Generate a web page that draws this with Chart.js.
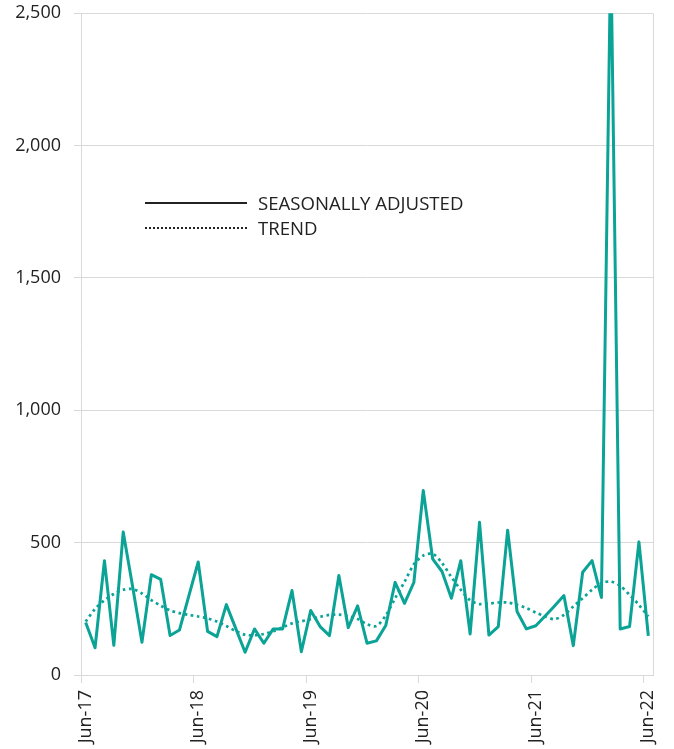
<!DOCTYPE html>
<html>
<head>
<meta charset="utf-8">
<script src="https://cdn.jsdelivr.net/npm/chart.js@4"></script>
<style>
  body { margin: 0; background: #fff; font-family: "Open Sans", sans-serif; }
  #wrap { position: relative; width: 674px; height: 749px; }
  .legend { position: absolute; left: 145px; top: 0; font-size: 18.6px; color: #222; }
  .legend .row { position: absolute; left: 0; height: 24px; white-space: nowrap; }
  .legend .mark { position: absolute; left: 0; top: 11px; width: 102px; }
  .legend .txt { position: absolute; left: 113px; top: 0; line-height: 24px; }
</style>
</head>
<body>
<div id="wrap">
  <canvas id="trendChart" width="674" height="749"></canvas>
  <div class="legend">
    <div class="row" style="top:191px"><div class="mark" style="border-top:2px solid #222"></div><span class="txt">SEASONALLY ADJUSTED</span></div>
    <div class="row" style="top:216px"><div class="mark" style="border-top:2px dotted #222"></div><span class="txt">TREND</span></div>
  </div>
</div>
<script>
const months = [
  "Jun-17", "Jul-17", "Aug-17", "Sep-17", "Oct-17", "Nov-17", "Dec-17", "Jan-18", "Feb-18", "Mar-18", "Apr-18", "May-18",
  "Jun-18", "Jul-18", "Aug-18", "Sep-18", "Oct-18", "Nov-18", "Dec-18", "Jan-19", "Feb-19", "Mar-19", "Apr-19", "May-19",
  "Jun-19", "Jul-19", "Aug-19", "Sep-19", "Oct-19", "Nov-19", "Dec-19", "Jan-20", "Feb-20", "Mar-20", "Apr-20", "May-20",
  "Jun-20", "Jul-20", "Aug-20", "Sep-20", "Oct-20", "Nov-20", "Dec-20", "Jan-21", "Feb-21", "Mar-21", "Apr-21", "May-21",
  "Jun-21", "Jul-21", "Aug-21", "Sep-21", "Oct-21", "Nov-21", "Dec-21", "Jan-22", "Feb-22", "Mar-22", "Apr-22", "May-22",
  "Jun-22"
];

const seasonallyAdjusted = [
  198, 103, 432, 112, 540, 335, 124, 379, 361, 149, 170, 299,
  427, 165, 145, 266, 176, 86, 174, 120, 174, 174, 319, 88,
  244, 183, 149, 376, 179, 261, 120, 129, 187, 350, 271, 350,
  697, 439, 391, 290, 432, 155, 577, 151, 183, 547, 240, 174,
  186, 223, 261, 300, 111, 388, 432, 293, 2750, 174, 183, 503,
  148
];

const trend = [
  202, 250, 282, 306, 322, 325, 308, 283, 262, 244, 234, 227,
  221, 214, 202, 185, 166, 152, 150, 155, 165, 180, 195, 203,
  211, 220, 227, 228, 222, 212, 192, 185, 225, 290, 352, 418,
  451, 458, 423, 370, 322, 282, 268, 270, 274, 274, 265, 253,
  236, 221, 211, 227, 259, 290, 322, 347, 353, 337, 303, 265,
  221
];

const yTicks = [0, 500, 1000, 1500, 2000, 2500];

const teal = "#0aa396";
const gridGrey = "#d9d9d9";

new Chart(document.getElementById("trendChart"), {
  type: "line",
  data: {
    labels: months,
    datasets: [
      {
        label: "SEASONALLY ADJUSTED",
        data: seasonallyAdjusted,
        borderColor: teal,
        borderWidth: 3,
        borderJoinStyle: "round",
        pointRadius: 0,
        tension: 0,
      },
      {
        label: "TREND",
        data: trend,
        borderColor: teal,
        borderWidth: 2.7,
        borderDash: [2.7, 3.5],
        pointRadius: 0,
        tension: 0.3,
      },
    ],
  },
  options: {
    responsive: false,
    animation: false,
    layout: { padding: { top: 0, right: 21, left: 0, bottom: 0 } },
    plugins: { legend: { display: false }, tooltip: { enabled: false } },
    scales: {
      x: {
        offset: true,
        grid: {
          offset: true,
          drawOnChartArea: true,
          tickLength: 8,
          // only the extra closing line (scale context, no index) draws the right frame
          color: (ctx) => (ctx.index === undefined ? gridGrey : "rgba(0,0,0,0)"),
          tickColor: (ctx) => (ctx.index !== undefined && ctx.index % 12 === 0 ? gridGrey : "rgba(0,0,0,0)"),
        },
        border: { color: gridGrey },
        ticks: {
          autoSkip: false,
          minRotation: 90,
          maxRotation: 90,
          padding: 7,
          color: "#222",
          font: { family: "Open Sans", size: 18 },
          callback: function (val, index) {
            return index % 12 === 0 ? months[index] : "";
          },
        },
        afterFit: (scale) => {
          scale.height = 74;
          scale.paddingLeft = 0;
          scale.paddingRight = 0;
        },
      },
      y: {
        min: 0,
        max: 2500,
        afterBuildTicks: (scale) => { scale.ticks = yTicks.map((v) => ({ value: v })); },
        grid: { color: gridGrey, tickLength: 7 },
        border: { color: gridGrey },
        ticks: {
          padding: 13,
          color: "#222",
          font: { family: "Open Sans", size: 18 },
          callback: (v) => v.toLocaleString("en-US"),
        },
        afterFit: (scale) => {
          scale.width = 81;
          scale.paddingTop = 13.3;
          scale.paddingBottom = 0;
        },
      },
    },
  },
});
</script>
</body>
</html>
